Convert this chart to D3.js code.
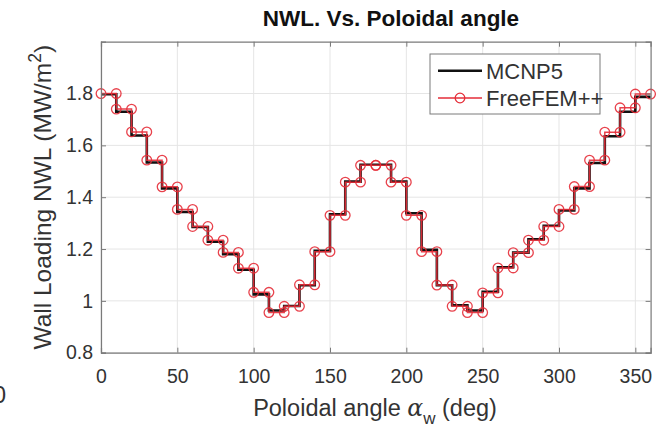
<!DOCTYPE html>
<html>
<head>
<meta charset="utf-8">
<script src="https://cdn.jsdelivr.net/npm/d3@7/dist/d3.min.js"></script>
<style>
  html, body { margin: 0; padding: 0; background: #fff; }
  svg { display: block; font-family: "Liberation Sans", Arial, Helvetica, sans-serif; }
</style>
</head>
<body>
<svg id="chart" width="666" height="428"></svg>
<script>
// Bin edges of the poloidal angle (deg)
const binEdges = [0, 10, 20, 30, 40, 50, 60, 70, 80, 90, 100, 110, 120, 130, 140, 150, 160, 170, 180,
                  190, 200, 210, 220, 230, 240, 250, 260, 270, 280, 290, 300, 310, 320, 330, 340, 350, 360];

// Neutron wall loading per bin (MW/m^2)
const mcnp5 = [1.797, 1.730, 1.638, 1.534, 1.434, 1.343, 1.285, 1.228, 1.180, 1.120, 1.025, 0.963,
               0.980, 1.060, 1.193, 1.334, 1.460, 1.525, 1.525, 1.460, 1.338, 1.197, 1.060, 0.983,
               0.963, 1.035, 1.130, 1.186, 1.238, 1.290, 1.349, 1.434, 1.532, 1.635, 1.730, 1.787];
const freefem = [1.800, 1.740, 1.652, 1.543, 1.440, 1.353, 1.287, 1.234, 1.187, 1.126, 1.033, 0.955,
                 0.979, 1.062, 1.190, 1.330, 1.458, 1.523, 1.523, 1.458, 1.330, 1.190, 1.061, 0.979,
                 0.955, 1.031, 1.127, 1.186, 1.234, 1.287, 1.353, 1.441, 1.543, 1.651, 1.745, 1.798];

const xTicks = [0, 50, 100, 150, 200, 250, 300, 350];
const yTicks = [0.8, 1, 1.2, 1.4, 1.6, 1.8];
const xDomain = [0, 360];
const yDomain = [0.8, 2.0];

const seriesNames = ["MCNP5", "FreeFEM++"];
const titleText = "NWL. Vs. Poloidal angle";

const margin = { left: 101, right: 15.4, top: 41.7, bottom: 75.3 };
const W = 666, H = 428;
const iw = W - margin.left - margin.right;
const ih = H - margin.top - margin.bottom;

const svg = d3.select("#chart");
const g = svg.append("g").attr("transform", `translate(${margin.left},${margin.top})`);

const x = d3.scaleLinear().domain(xDomain).range([0, iw]);
const y = d3.scaleLinear().domain(yDomain).range([ih, 0]);

const axisColor = "#7a7a7a";
const textColor = "#333";
const fontSize = 19.5;
const labelSize = 23.5;
const legendSize = 22;

// plot background
g.append("rect").attr("width", iw).attr("height", ih).attr("fill", "#fff");

// grid
g.append("g").selectAll("line").data(xTicks).join("line")
  .attr("x1", d => x(d)).attr("x2", d => x(d)).attr("y1", 0).attr("y2", ih)
  .attr("stroke", "#e5e5e5").attr("stroke-width", 1);
g.append("g").selectAll("line").data(yTicks).join("line")
  .attr("x1", 0).attr("x2", iw).attr("y1", d => y(d)).attr("y2", d => y(d))
  .attr("stroke", "#e5e5e5").attr("stroke-width", 1);

// MCNP5: stairs
const stairPts = mcnp5.map((v, i) => [binEdges[i], v]);
stairPts.push([binEdges[binEdges.length - 1], mcnp5[mcnp5.length - 1]]);
const stairLine = d3.line().x(d => x(d[0])).y(d => y(d[1])).curve(d3.curveStepAfter);
g.append("path").datum(stairPts)
  .attr("d", stairLine)
  .attr("fill", "none").attr("stroke", "#111").attr("stroke-width", 2.6);

// FreeFEM++: points at both ends of each bin
const femPts = [];
freefem.forEach((v, i) => {
  femPts.push([binEdges[i], v]);
  femPts.push([binEdges[i + 1], v]);
});
const lin = d3.line().x(d => x(d[0])).y(d => y(d[1]));
const red = "#e52d38";
g.append("path").datum(femPts)
  .attr("d", lin)
  .attr("fill", "none").attr("stroke", red).attr("stroke-width", 1.5).attr("stroke-opacity", 0.9);
g.append("g").selectAll("circle").data(femPts).join("circle")
  .attr("cx", d => x(d[0])).attr("cy", d => y(d[1])).attr("r", 4.8)
  .attr("fill", "none").attr("stroke", red).attr("stroke-width", 1.3).attr("stroke-opacity", 0.9);

// axes (box with inward ticks on all sides)
const tickLen = 5;
const xAxisB = d3.axisBottom(x).tickValues(xTicks).tickSize(-tickLen).tickPadding(16).tickFormat(d3.format("d"));
const yAxisL = d3.axisLeft(y).tickValues(yTicks).tickSize(-tickLen).tickPadding(8).tickFormat(d => d3.format("")(d));
const xAxisT = d3.axisTop(x).tickValues(xTicks).tickSize(-tickLen).tickFormat("");
const yAxisR = d3.axisRight(y).tickValues(yTicks).tickSize(-tickLen).tickFormat("");

function styleAxis(sel) {
  sel.select(".domain").attr("stroke", axisColor).attr("stroke-width", 1.2);
  sel.selectAll(".tick line").attr("stroke", axisColor);
  sel.selectAll(".tick text").attr("fill", textColor).style("font-size", fontSize + "px")
    .style("font-family", "'Liberation Sans', Arial, sans-serif");
}
g.append("g").attr("transform", `translate(0,${ih})`).call(xAxisB).call(styleAxis);
g.append("g").call(yAxisL).call(styleAxis);
g.append("g").call(xAxisT).call(styleAxis);
g.append("g").attr("transform", `translate(${iw},0)`).call(yAxisR).call(styleAxis);

// title
svg.append("text")
  .attr("x", 391).attr("y", 26)
  .attr("text-anchor", "middle")
  .style("font-size", "22.5px").style("font-weight", "bold").attr("fill", "#111")
  .text(titleText);

// x label
const xl = svg.append("text")
  .attr("x", 375).attr("y", 416)
  .attr("text-anchor", "middle")
  .style("font-size", labelSize + "px").attr("fill", textColor);
xl.append("tspan").text("Poloidal angle ");
xl.append("tspan").text("\u03B1").style("font-style", "italic").style("font-family", "'DejaVu Serif', serif");
xl.append("tspan").text("w").attr("dy", 8).style("font-size", "17px");
xl.append("tspan").text(" (deg)").attr("dy", -8);

// y label
const yl = svg.append("text")
  .attr("transform", `translate(51,${margin.top + ih / 2}) rotate(-90)`)
  .attr("text-anchor", "middle")
  .style("font-size", "24.5px").attr("fill", textColor);
yl.append("tspan").text("Wall Loading NWL (MW/m");
yl.append("tspan").text("2").attr("dy", -10).style("font-size", "17.5px");
yl.append("tspan").text(")").attr("dy", 10);

// stray digit at the left edge
svg.append("text").attr("x", -7).attr("y", 403)
  .style("font-size", labelSize + "px").attr("fill", textColor).text("0");

// legend
const lg = svg.append("g");
lg.append("rect").attr("x", 430).attr("y", 54).attr("width", 170).attr("height", 60)
  .attr("fill", "#fff").attr("stroke", axisColor).attr("stroke-width", 1);
lg.append("line").attr("x1", 438).attr("x2", 482).attr("y1", 70.7).attr("y2", 70.7)
  .attr("stroke", "#111").attr("stroke-width", 2.6);
lg.append("text").attr("x", 486).attr("y", 78.6).style("font-size", legendSize + "px").attr("fill", textColor)
  .text(seriesNames[0]);
lg.append("line").attr("x1", 438).attr("x2", 482).attr("y1", 98).attr("y2", 98)
  .attr("stroke", red).attr("stroke-width", 1.5);
lg.append("circle").attr("cx", 460).attr("cy", 98).attr("r", 4.8)
  .attr("fill", "none").attr("stroke", red).attr("stroke-width", 1.3);
lg.append("text").attr("x", 486).attr("y", 105.9).style("font-size", legendSize + "px").attr("fill", textColor)
  .text(seriesNames[1]);
</script>
</body>
</html>
